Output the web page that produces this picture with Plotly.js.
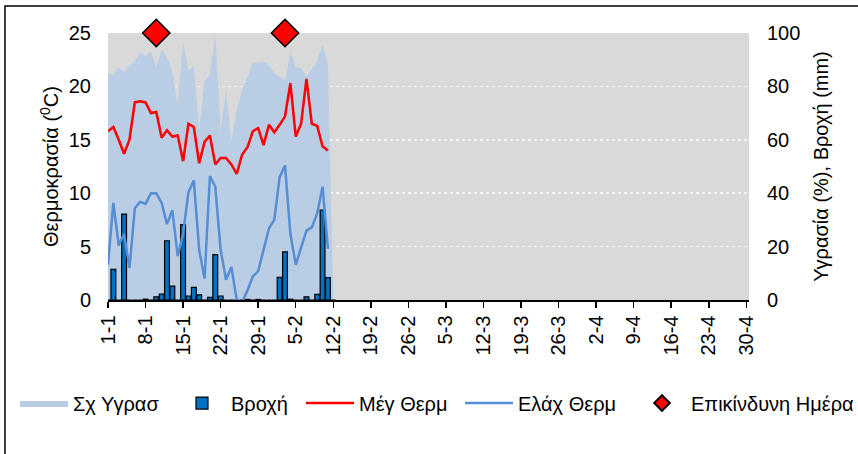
<!DOCTYPE html>
<html>
<head>
<meta charset="utf-8">
<script src="https://cdn.plot.ly/plotly-3.0.1.min.js"></script>
<style>
html,body{margin:0;padding:0;background:#fff;}
#chart{width:858px;height:454px;}
</style>
</head>
<body>
<div id="chart"></div>
<script>
const dates = [
 '2023-01-01','2023-01-02','2023-01-03','2023-01-04','2023-01-05','2023-01-06','2023-01-07',
 '2023-01-08','2023-01-09','2023-01-10','2023-01-11','2023-01-12','2023-01-13','2023-01-14',
 '2023-01-15','2023-01-16','2023-01-17','2023-01-18','2023-01-19','2023-01-20','2023-01-21',
 '2023-01-22','2023-01-23','2023-01-24','2023-01-25','2023-01-26','2023-01-27','2023-01-28',
 '2023-01-29','2023-01-30','2023-01-31','2023-02-01','2023-02-02','2023-02-03','2023-02-04',
 '2023-02-05','2023-02-06','2023-02-07','2023-02-08','2023-02-09','2023-02-10','2023-02-11',
 '2023-02-12'];
const humidity = [84.9,84.3,87.1,85.5,87.6,89.6,92.6,91.4,93.0,87.1,93.6,91.1,85.5,73.0,96.8,86.1,87.4,63.7,81.8,84.3,99.6,63.0,78.7,59.3,71.2,78.7,83.4,88.9,88.9,89.3,88.0,84.9,83.6,82.4,92.6,87.4,86.8,83.6,86.4,89.6,95.5,88.6,0];
const rain = [0,11.5,0,32.2,0,0,0,0.3,0,1.2,2.2,22.2,5.2,0,28.2,1.5,4.7,1.9,0,1.0,17.0,1.5,0,0,0,0,0.2,0,0.2,0,0,0,8.5,18.0,0.3,0,0,1.2,0,2.1,33.7,8.4,0];
const tMax = [15.8,16.2,15.0,13.7,15.0,18.5,18.6,18.5,17.5,17.6,15.2,15.9,15.3,15.4,13.0,16.5,16.2,12.8,14.8,15.4,12.7,13.3,13.3,12.7,11.8,13.6,14.3,15.8,16.1,14.5,16.4,15.7,16.4,17.2,20.3,15.3,16.5,20.7,16.5,16.3,14.4,14.0,null];
const tMin = [3.3,9.1,5.1,6.2,3.0,8.6,9.2,9.0,10.0,10.0,9.1,7.1,8.4,4.1,6.2,10.1,11.2,4.7,2.0,11.6,10.6,4.7,1.9,3.1,0.0,-0.2,0.9,2.2,2.7,4.7,6.7,7.5,11.5,12.6,6.2,3.3,5.0,6.5,6.8,8.1,10.6,4.8,null];
const dangerDates = ['2023-01-10','2023-02-03'];
const dangerValues = [25,25];
const xTickStart = '2023-01-01';
const xRange = ['2023-01-01','2023-04-30 12:00'];

const FONT = 'Liberation Sans, Arial, sans-serif';
const FS = 20;

const traces = [
  {x: dates, y: humidity, name: 'Σχ Υγρασ', type: 'scatter', mode: 'lines',
   fill: 'tozeroy', fillcolor: '#b9cde5', line: {width: 0, color: '#b9cde5'}, yaxis: 'y', legend: 'legend'},
  {x: dates, y: rain, name: 'Βροχή', type: 'bar', yaxis: 'y2', width: 0.9*86400000,
   marker: {color: '#0070c0', line: {color: '#000', width: 1.2}}, legend: 'legend2'},
  {x: dates, y: tMax, name: 'Μέγ Θερμ', type: 'scatter', mode: 'lines', yaxis: 'y3',
   line: {color: '#ff0000', width: 2.5}, legend: 'legend3'},
  {x: dates, y: tMin, name: 'Ελάχ Θερμ', type: 'scatter', mode: 'lines', yaxis: 'y3',
   line: {color: '#558ed5', width: 2.5}, legend: 'legend4'},
  {x: dangerDates, y: dangerValues, name: 'Επικίνδυνη Ημέρα', type: 'scatter', mode: 'markers', yaxis: 'y3',
   cliponaxis: false, marker: {symbol: 'diamond', size: 21, color: '#ff0000', line: {color: '#000', width: 1.5}},
   legend: 'legend5'}
];

const plotL = 108, plotW = 641;
function legendAt(textStartPx, extra) {
  return Object.assign({orientation: 'h', x: (textStartPx - 59 - plotL) / plotW, xanchor: 'left',
    y: -0.386, yanchor: 'middle', itemwidth: 48, font: {size: FS}, bgcolor: 'rgba(0,0,0,0)'}, extra || {});
}

const layout = {
  width: 858, height: 454,
  margin: {l: 108, r: 109, t: 33, b: 154, autoexpand: false},
  paper_bgcolor: '#ffffff',
  plot_bgcolor: '#d9d9d9',
  font: {family: FONT, size: FS, color: '#000'},
  showlegend: true,
  bargap: 0,
  xaxis: {
    type: 'date', range: xRange, tick0: xTickStart, dtick: 7*86400000, automargin: false,
    tickformat: '%-d-%-m', tickangle: -90, ticks: 'outside', ticklen: 6, tickwidth: 1.5,
    tickcolor: '#000', showline: true, linecolor: '#000', linewidth: 1.5,
    showgrid: false, zeroline: false, tickfont: {size: FS}, fixedrange: true
  },
  yaxis: {
    range: [0, 100], side: 'right', tickvals: [0,20,40,60,80,100], showgrid: false, zeroline: false,
    showline: false, ticks: '', tickfont: {size: FS}, automargin: false, ticklabelstandoff: 17,
    title: {text: 'Υγρασία (%), Βροχή (mm)', font: {size: FS}, standoff: 14}
  },
  yaxis2: {range: [0, 100], overlaying: 'y', side: 'right', visible: false, showgrid: false, zeroline: false, automargin: false},
  yaxis3: {
    range: [0, 25], overlaying: 'y', side: 'left', tickvals: [0,5,10,15,20,25], automargin: false,
    showgrid: true, gridcolor: '#f2f2f2', griddash: 'dot', gridwidth: 1.5, zeroline: false,
    showline: false, ticks: '', tickfont: {size: FS}, ticklabelstandoff: 16,
    title: {text: 'Θερμοκρασία (<sup>0</sup>C)', font: {size: FS}, standoff: 4}
  },
  legend: legendAt(74),
  legend2: legendAt(232),
  legend3: legendAt(360),
  legend4: legendAt(519),
  legend5: legendAt(692, {itemsizing: 'constant'}),
  shapes: [
    {type: 'rect', xref: 'paper', yref: 'paper', x0: -0.1607, x1: 1.4, y0: 1.1011, y1: -1.2,
     line: {color: '#000', width: 1.5}, fillcolor: 'rgba(0,0,0,0)', layer: 'above'}
  ]
};

Plotly.newPlot('chart', traces, layout, {displayModeBar: false, staticPlot: true});
</script>
</body>
</html>
